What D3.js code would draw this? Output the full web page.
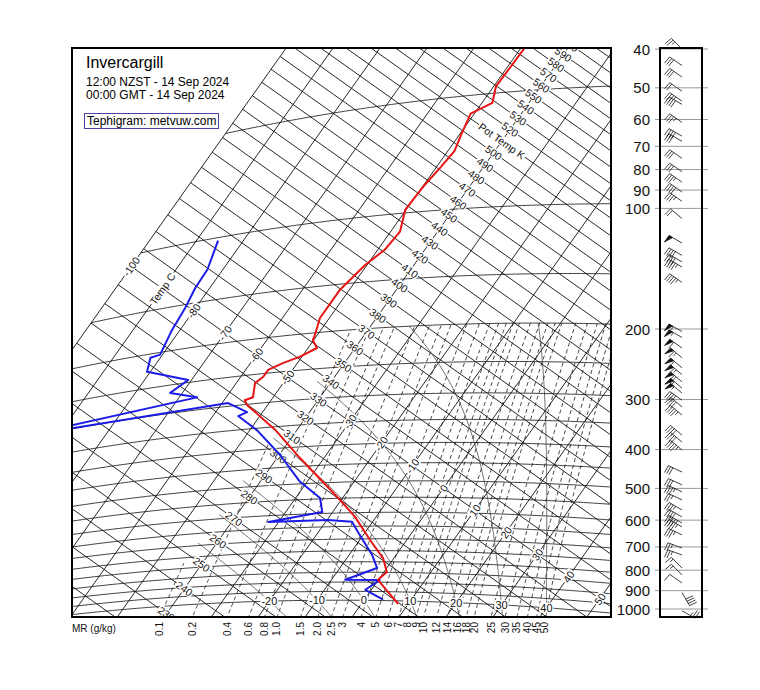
<!DOCTYPE html>
<html><head><meta charset="utf-8">
<script src="https://cdn.jsdelivr.net/npm/d3@7"></script>
<style>
body{margin:0;background:#fff}
text{font-family:"Liberation Sans",Arial,Helvetica,sans-serif}
</style>
</head><body>
<svg id="c" width="760" height="690"></svg>
<script>
// ---------------- DATA ----------------
const stationName = "Invercargill";
const timeLocal = "12:00 NZST - 14 Sep 2024";
const timeGMT = "00:00 GMT - 14 Sep 2024";
const creditText = "Tephigram: metvuw.com";

// Temperature sounding (hPa, °C)
const tempP = [1017,939,888,848,783,705,615,555,428,357,301,292,288,264,255,245,237,230,220,209,203,183,155,135,124,112,98,85,77,70,63,56,53,48,38];
const tempT = [7.8,3.1,-0.1,0.6,-2.3,-7.8,-14.5,-20.3,-35.1,-44.6,-54.4,-55.6,-54.3,-56.0,-55.2,-55.2,-53.1,-50.4,-48.1,-50.2,-50.5,-52.0,-52.0,-50.4,-48.5,-48.0,-50.2,-49.8,-49.1,-48.6,-49.7,-50.8,-47.8,-49.5,-49.2];
// Dew point sounding (hPa, °C)
const dewP = [995,941,889,888,829,769,672,633,624,623,595,547,494,417,354,321,315,294,295,277,263,246,224,205,203,175,154,136,122,102];
const dewT = [4.0,-1.3,0.3,-7.1,-2.1,-5.1,-11.6,-14.4,-19.8,-32.2,-22.2,-24.8,-31.5,-39.8,-48.5,-54.6,-53.3,-58.7,-97.9,-66.2,-72.6,-70.7,-80.7,-82.1,-80.5,-81.7,-82.2,-83.1,-83.3,-85.4];

// Winds (hPa, direction deg, speed kt)
const windP   = [40,44,47,51,54,55,61,66,68,75,81,86,91,96,106,122,131,136,140,153,203,210,223,236,250,260,271,281,289,301,313,328,368,383,401,455,490,510,534,566,589,610,624,653,704,733,790,822,861,910,1010];
const windDir = [315,305,305,305,305,300,305,300,300,305,305,305,305,305,310,300,300,300,300,305,300,300,305,310,310,310,310,310,310,305,310,310,310,310,310,295,295,295,295,300,300,300,300,295,290,290,315,315,305,150,120];
const windSpd = [25,30,30,20,35,40,35,40,30,30,30,35,40,35,20,50,40,40,45,45,55,55,60,65,60,65,70,60,55,40,40,45,40,40,45,30,30,35,25,35,40,45,45,35,25,25,15,15,10,40,25];

// Chart line sets
const isothermT = d3.range(-100, 61, 10);
const isentropeTh = d3.range(200, 661, 10);
const isobarP = [1000,950,900,850,800,750,700,650,600,550,500,450,400,350,300,250,200,150,100,50];
const mixRatios = [0.1,0.2,0.4,0.6,0.8,1.0,1.5,2.0,2.5,3,4,5,6,7,8,9,10,12,14,16,18,20,25,30,35,40,45,50];
const mixLabels = ["0.1","0.2","0.4","0.6","0.8","1.0","1.5","2.0","2.5","3","4","5","6","7","8","9","10","12","14","16","18","20","25","30","35","40","45","50"];
const satAdiabats = [-20,-10,0,10,20,30,40];
const tempLabels = [-100,-90,-80,-70,-60,-50,-30,-20,-10,0,10,20,30,40,50];
const thetaLabels = d3.range(220, 601, 10);
const pressTicks = [40,50,60,70,80,90,100,200,300,400,500,600,700,800,900,1000];

// ---------------- GEOMETRY ----------------
const svg = d3.select("#c");
const PX0=72, PX1=611, PY0=48, PY1=617;
const ANG = 35.35*Math.PI/180, COS=Math.cos(ANG), SIN=Math.sin(ANG);
const X0=318.6, Y0=399.4;      // position of T=-40°C, theta=330K
const KAPPA=0.29;
const tScale = d3.scaleLinear().domain([-40,60]).range([0,383]);
const thScale = d3.scaleLog().domain([330,660]).range([0,728*Math.LN2]);
function xyTTh(T,th){const u=tScale(T), v=thScale(th); return [X0+u*COS+v*SIN, Y0+u*SIN-v*COS];}
function theta(T,p){return (T+273.15)*Math.pow(1000/p,KAPPA);}
function xyTP(T,p){return xyTTh(T,theta(T,p));}
const pScale = d3.scaleLog().domain([1000,40]).range([609,49]);

function es(T){return 6.112*Math.exp(17.67*T/(T+243.5));}
function tFromE(e){const l=Math.log(e/6.112); return 243.5*l/(17.67-l);}
function dTdp(T,p){
  const Tk=T+273.15, e=es(T), rs=0.622*e/(p-e);
  const Rd=287.04, cp=1005.7, L=2.501e6, eps=0.622;
  return (1/p)*(Rd*Tk+L*rs)/(cp+(L*L*rs*eps)/(Rd*Tk*Tk));
}
function moistPath(T0){
  const up=[], down=[];
  let T=T0, p=1000, h=-5;
  up.push([T,p]);
  while(p>200){
    const k1=dTdp(T,p), k2=dTdp(T+h*k1/2,p+h/2), k3=dTdp(T+h*k2/2,p+h/2), k4=dTdp(T+h*k3,p+h);
    T+=h*(k1+2*k2+2*k3+k4)/6; p+=h; up.push([T,p]);
  }
  T=T0; p=1000; h=5;
  while(p<1150){
    const k1=dTdp(T,p), k2=dTdp(T+h*k1/2,p+h/2), k3=dTdp(T+h*k2/2,p+h/2), k4=dTdp(T+h*k3,p+h);
    T+=h*(k1+2*k2+2*k3+k4)/6; p+=h; down.push([T,p]);
  }
  return down.reverse().concat(up);
}
const TCUT=-44;
const line=d3.line();

const defs=svg.append("defs");
defs.append("clipPath").attr("id","pc").append("rect").attr("x",PX0).attr("y",PY0).attr("width",PX1-PX0).attr("height",PY1-PY0);

const grid=svg.append("g").attr("clip-path","url(#pc)");
grid.append("g").selectAll("path").data(isothermT).join("path")
  .attr("d",T=>line([xyTTh(T,150),xyTTh(T,720)]))
  .attr("fill","none").attr("stroke","#111").attr("stroke-width",0.9);
grid.append("g").selectAll("path").data(isentropeTh).join("path")
  .attr("d",th=>line([xyTTh(-100,th),xyTTh(90,th)]))
  .attr("fill","none").attr("stroke","#111").attr("stroke-width",0.9);
grid.append("g").selectAll("path").data(isobarP).join("path")
  .attr("d",p=>line(d3.range(-100,91,1).map(T=>xyTP(T,p))))
  .attr("fill","none").attr("stroke","#111").attr("stroke-width",0.8);
function mixPath(w){
  const pts=[];
  for(let p=1150;p>=200;p-=5){const e=w*p/(622+w); const T=tFromE(e); if(T<TCUT) break; pts.push(xyTP(T,p));}
  return pts;
}
grid.append("g").selectAll("path").data(mixRatios).join("path")
  .attr("d",w=>{const pts=mixPath(w); return pts.length>1?line(pts):null;})
  .attr("fill","none").attr("stroke","#111").attr("stroke-width",0.8).attr("stroke-dasharray","4,3");
grid.append("g").selectAll("path").data(satAdiabats).join("path")
  .attr("d",tw=>{const pts=moistPath(tw).filter(d=>d[0]>=TCUT).map(d=>xyTP(d[0],d[1])); return line(pts);})
  .attr("fill","none").attr("stroke","#333").attr("stroke-width",0.7);

const lab=svg.append("g").attr("clip-path","url(#pc)");
function addLabel(x,y,ang,txt,size){
  const g=lab.append("g").attr("transform",`translate(${x},${y}) rotate(${ang})`);
  const t=g.append("text").attr("text-anchor","middle").attr("dominant-baseline","central")
    .attr("font-size",size).attr("fill","#111").text(txt);
  const b=t.node().getBBox();
  g.insert("rect","text").attr("x",b.x-1).attr("y",b.y+1).attr("width",b.width+2).attr("height",b.height-2).attr("fill","#fff");
}
tempLabels.forEach(T=>{const [x,y]=xyTTh(T,330); addLabel(x,y,-(90-35.35),T===-90?"Temp C":String(T),10.5);});
thetaLabels.forEach(th=>{const [x,y]=xyTTh(-40,th); addLabel(x,y,35.35,th===510?"Pot Temp K":String(th),10.5);});
satAdiabats.forEach(tw=>{const [x,y]=xyTP(tw,1000); addLabel(x,y,0,String(tw),11);});

mixRatios.forEach((w,i)=>{
  let prev=null, xb=null;
  for(let p=1200;p>=900;p-=1){
    const e=w*p/(622+w); const T=tFromE(e); const pt=xyTP(T,p);
    if(prev && prev[1]>=PY1 && pt[1]<PY1){const f=(prev[1]-PY1)/(prev[1]-pt[1]); xb=prev[0]+f*(pt[0]-prev[0]); break;}
    prev=pt;
  }
  if(xb!==null) svg.append("text").attr("transform",`translate(${xb},622) rotate(-90)`)
    .attr("text-anchor","end").attr("dominant-baseline","central").attr("font-size",10).attr("fill","#111").text(mixLabels[i]);
});
svg.append("text").attr("x",72).attr("y",632).attr("font-size",10).attr("fill","#111").text("MR (g/kg)");

const snd=svg.append("g").attr("clip-path","url(#pc)");
snd.append("path").attr("d",line(dewP.map((p,i)=>xyTP(dewT[i],p)))).attr("fill","none").attr("stroke","#1c1ce6").attr("stroke-width",2).attr("stroke-linejoin","round");
snd.append("path").attr("d",line(tempP.map((p,i)=>xyTP(tempT[i],p)))).attr("fill","none").attr("stroke","#e81414").attr("stroke-width",2).attr("stroke-linejoin","round");

svg.append("rect").attr("x",PX0).attr("y",PY0).attr("width",PX1-PX0).attr("height",PY1-PY0).attr("fill","none").attr("stroke","#000").attr("stroke-width",2);

svg.append("text").attr("x",86).attr("y",68).attr("font-size",16).text(stationName);
svg.append("text").attr("x",86).attr("y",86).attr("font-size",12).text(timeLocal);
svg.append("text").attr("x",86).attr("y",99).attr("font-size",12).text(timeGMT);
svg.append("rect").attr("x",84.5).attr("y",113.5).attr("width",134).attr("height",15).attr("fill","#fff").attr("stroke","#4a3fa8").attr("stroke-width",1);
svg.append("text").attr("x",87).attr("y",125).attr("font-size",12).text(creditText);

const ax=svg.append("g");
pressTicks.forEach(p=>{
  const y=pScale(p);
  ax.append("line").attr("x1",655).attr("x2",708).attr("y1",y).attr("y2",y).attr("stroke","#999").attr("stroke-width",1);
  ax.append("text").attr("x",650).attr("y",y).attr("text-anchor","end").attr("dominant-baseline","central").attr("font-size",15).attr("fill","#111").text(p);
});
svg.append("rect").attr("x",660).attr("y",PY0).attr("width",42).attr("height",PY1-PY0).attr("fill","none").attr("stroke","#000").attr("stroke-width",2);

// wind barbs (southern-hemisphere style: feathers on the left of the staff)
const wb=svg.append("g").attr("stroke","#111").attr("stroke-width",0.8).attr("fill","#111");
function drawBarb(x,y,dir,spd){
  const r=dir*Math.PI/180, dx=Math.sin(r), dy=-Math.cos(r);
  const L=15, rot=-85*Math.PI/180;
  const fx=dx*Math.cos(rot)-dy*Math.sin(rot), fy=dx*Math.sin(rot)+dy*Math.cos(rot);
  const FL=8, step=2.5;
  wb.append("line").attr("x1",x).attr("y1",y).attr("x2",x+dx*L).attr("y2",y+dy*L);
  let s=Math.round(spd/5)*5, pos=L;
  while(s>=50){
    const ax_=x+dx*pos, ay=y+dy*pos, bx=x+dx*(pos-4), by=y+dy*(pos-4);
    wb.append("path").attr("d",line([[ax_,ay],[ax_+fx*FL,ay+fy*FL],[bx,by]])+"Z");
    pos-=5; s-=50;
  }
  while(s>=10){
    const px=x+dx*pos, py=y+dy*pos;
    wb.append("line").attr("x1",px).attr("y1",py).attr("x2",px+fx*FL).attr("y2",py+fy*FL);
    pos-=step; s-=10;
  }
  if(s>=5){
    if(pos===L) pos-=step;
    const px=x+dx*pos, py=y+dy*pos;
    wb.append("line").attr("x1",px).attr("y1",py).attr("x2",px+fx*FL/2).attr("y2",py+fy*FL/2);
  }
}
windP.forEach((p,i)=>drawBarb(682,pScale(p),windDir[i],windSpd[i]));
</script>
</body></html>
